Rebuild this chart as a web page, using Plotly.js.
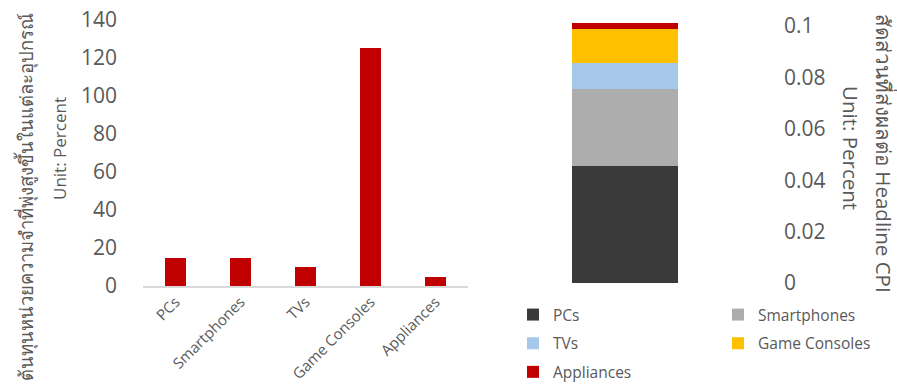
<!DOCTYPE html>
<html>
<head>
<meta charset="utf-8">
<script src="https://cdn.plot.ly/plotly-3.0.1.min.js"></script>
<style>html,body{margin:0;padding:0;background:#fff;}#chart{width:897px;height:384px;}</style>
</head>
<body>
<div id="chart"></div>
<script>
// Left chart: rising memory cost per device (percent)
const devices = ["PCs", "Smartphones", "TVs", "Game Consoles", "Appliances"];
const costIncrease = [15, 15, 10, 125.5, 5];

// Right chart: share of impact on headline CPI (percent)
const cpiCategory = ["CPI"];
const cpiShare = [0.0456, 0.030, 0.0101, 0.0133, 0.0023];
const shareColors = ["#3a3a3a", "#adadad", "#a6c9ea", "#ffc000", "#c00000"];
const legendFor = ["legend", "legend2", "legend", "legend2", "legend"];

const leftTitle = "ต้นทุนหน่วยความจำที่พุ่งสูงขึ้นในแต่ละอุปกรณ์";
const rightTitle = "สัดส่วนที่ส่งผลต่อ Headline CPI";
const unitTitle = "Unit: Percent";

const W = 897, H = 384;
const px = v => v / W;
const py = v => 1 - v / H;
const FONT = "Open Sans, Noto Sans, sans-serif";
const GREY = "#595959";

const traces = [{
  type: "bar", x: devices, y: costIncrease,
  xaxis: "x", yaxis: "y",
  marker: {color: "#c00000"},
  showlegend: false, hoverinfo: "x+y"
}];
devices.forEach((d, i) => {
  traces.push({
    type: "bar", name: d, x: cpiCategory, y: [cpiShare[i]],
    xaxis: "x2", yaxis: "y2", width: 1,
    marker: {color: shareColors[i]},
    legend: legendFor[i], legendgroup: "g" + i
  });
});

const legendBase = {
  xanchor: "left", yanchor: "top",
  orientation: "v", traceorder: "grouped", tracegroupgap: 5.5,
  font: {size: 15.5, color: GREY}, bgcolor: "rgba(0,0,0,0)"
};

const layout = {
  width: W, height: H,
  margin: {l: 0, r: 0, t: 0, b: 0, autoexpand: false},
  paper_bgcolor: "#fff", plot_bgcolor: "rgba(0,0,0,0)",
  barmode: "stack", bargap: 0.69,
  font: {family: FONT, color: GREY},
  xaxis: {
    domain: [px(143), px(468)], anchor: "y",
    showline: true, linecolor: "#d9d9d9", linewidth: 1.5,
    ticks: "", tickangle: -45, tickfont: {size: 15, color: GREY},
    showgrid: false, zeroline: false, automargin: false
  },
  yaxis: {
    domain: [py(286), py(20)], anchor: "x",
    range: [0, 140], dtick: 20, tick0: 0,
    showgrid: false, zeroline: false, showline: false, ticks: "",
    tickfont: {size: 21, color: GREY}, ticklabelstandoff: 25, automargin: false
  },
  xaxis2: {
    domain: [px(572), px(678)], anchor: "y2",
    range: [-0.5, 0.5], showticklabels: false, ticks: "",
    showgrid: false, zeroline: false, showline: false, automargin: false
  },
  yaxis2: {
    domain: [py(283), py(283 - 0.102 * 2570)], anchor: "x2", side: "right",
    range: [0, 0.102], dtick: 0.02, tick0: 0,
    showgrid: false, zeroline: false, showline: false, ticks: "",
    tickfont: {size: 21, color: GREY}, ticklabelstandoff: 105, automargin: false
  },
  legend: Object.assign({}, legendBase, {x: px(513), y: py(298)}),
  legend2: Object.assign({}, legendBase, {x: px(718), y: py(298)}),
  annotations: [
    {text: leftTitle, xref: "paper", yref: "paper", x: px(26), y: py(197),
     xanchor: "center", yanchor: "middle",
     textangle: -90, showarrow: false, font: {size: 18.4, color: GREY}},
    {text: unitTitle, xref: "paper", yref: "paper", x: px(60), y: py(149),
     xanchor: "center", yanchor: "middle",
     textangle: -90, showarrow: false, font: {size: 17, color: GREY}},
    {text: unitTitle, xref: "paper", yref: "paper", x: px(851), y: py(148),
     xanchor: "center", yanchor: "middle",
     textangle: 90, showarrow: false, font: {size: 20.5, color: GREY}},
    {text: rightTitle, xref: "paper", yref: "paper", x: px(884), y: py(153),
     xanchor: "center", yanchor: "middle",
     textangle: 90, showarrow: false, font: {size: 20.5, color: GREY}}
  ]
};

Plotly.newPlot("chart", traces, layout, {displayModeBar: false, staticPlot: true});
</script>
</body>
</html>
